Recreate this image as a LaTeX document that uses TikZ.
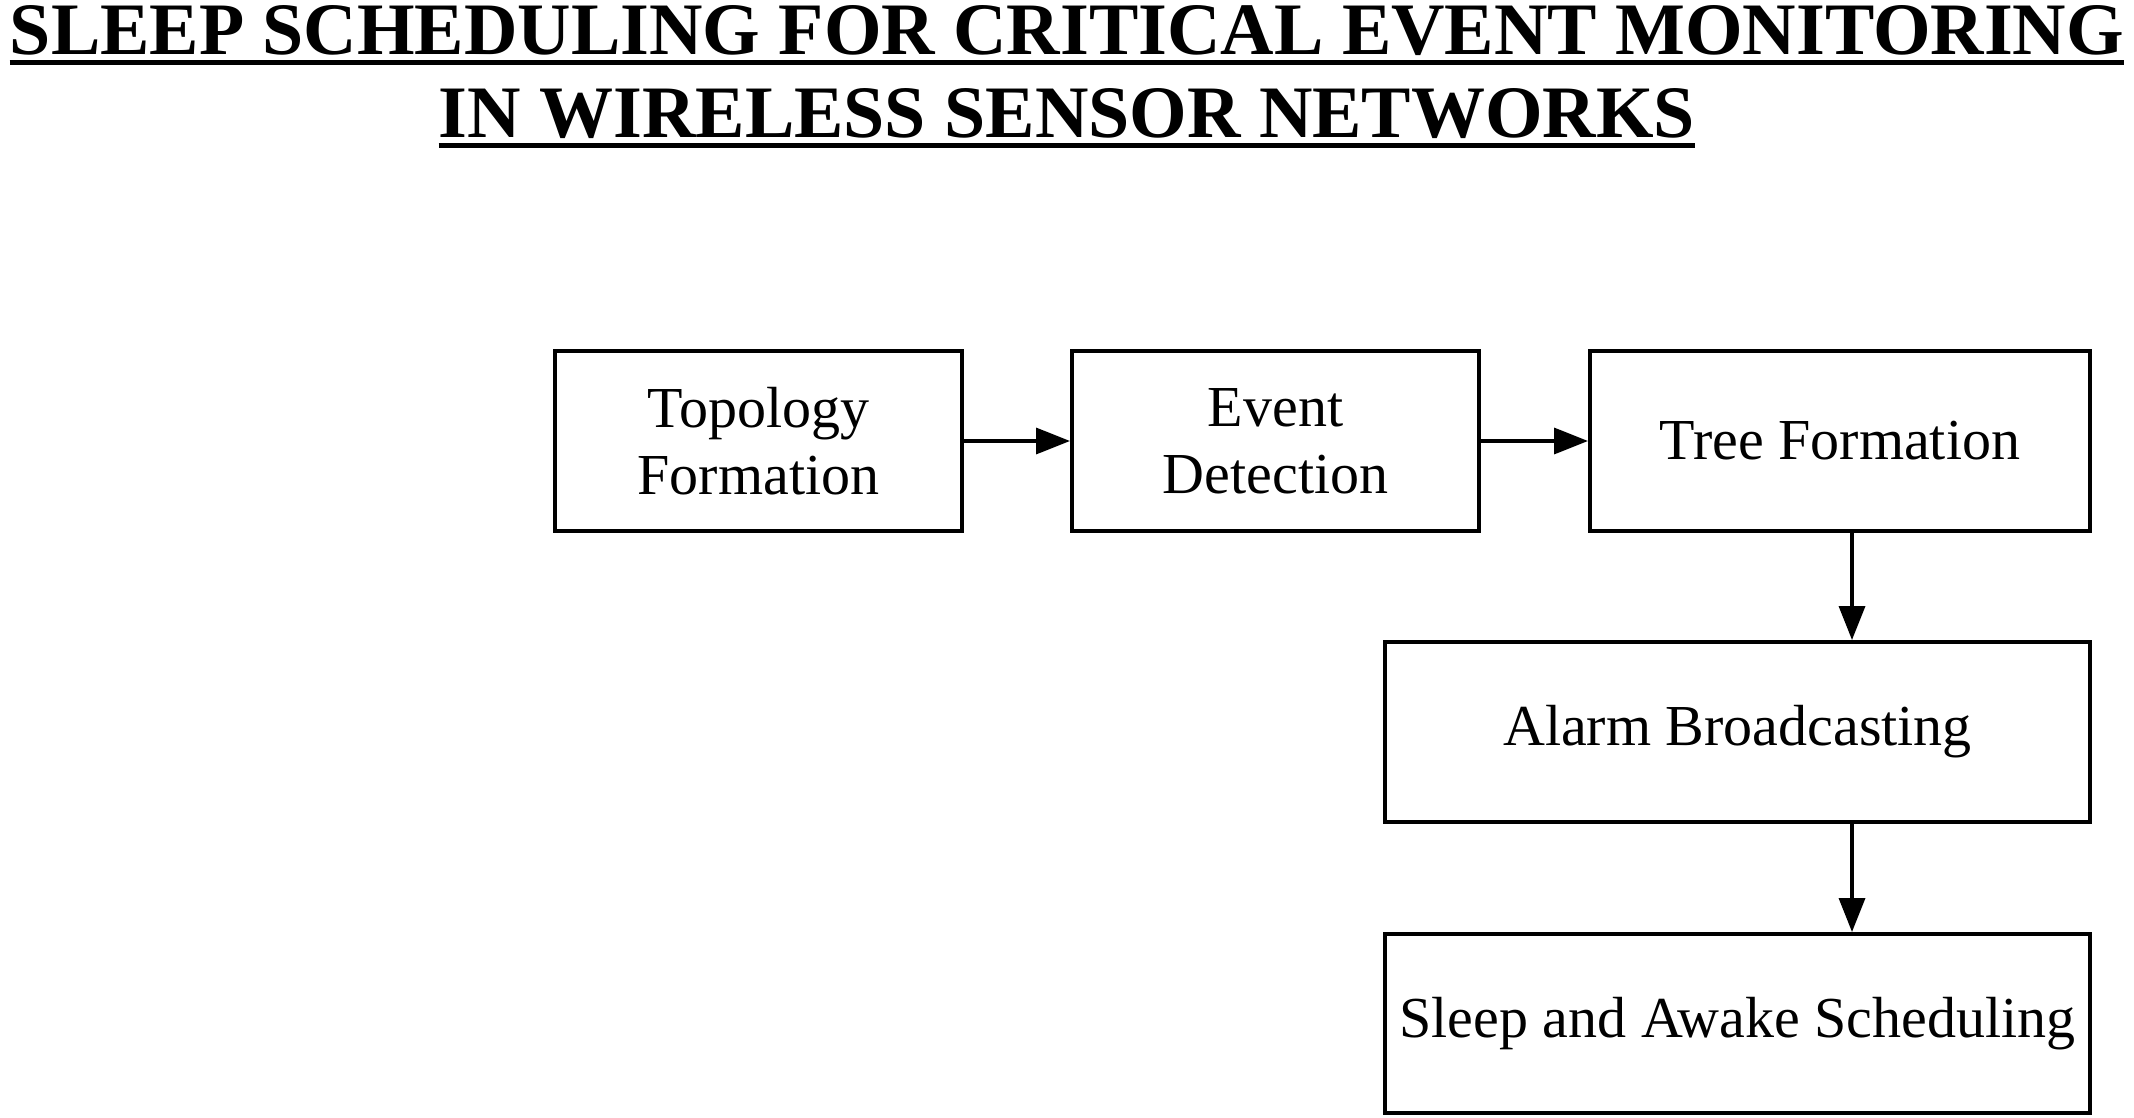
\documentclass[tikz,border=0pt]{standalone}
\usepackage{fontspec}
\setmainfont{Liberation Serif}
\usetikzlibrary{arrows.meta}
\begin{document}
\begin{tikzpicture}[x=1pt,y=-1pt,
  box/.style={draw=black,line width=4pt,rectangle,align=center,inner sep=0pt,
    font=\fontsize{58}{67}\selectfont},
  arr/.style={line width=3.5pt,-{Triangle[length=34pt,width=26pt]}},
  ttl/.style={font=\fontsize{74}{84}\bfseries\selectfont,inner sep=0pt,anchor=base,
    text height=50pt,text depth=0pt}]
\useasboundingbox[fill=white] (0,0) rectangle (2134,1118);
\node[ttl] (t1) at (1067,55) {SLEEP SCHEDULING FOR CRITICAL EVENT MONITORING};
\node[ttl] (t2) at (1067,138) {IN WIRELESS SENSOR NETWORKS};
\draw[line width=5pt] (t1.base west |- 0,63) coordinate (u1a) -- (t1.base east |- 0,63) coordinate (u1b);
\draw[line width=5pt] (t2.base west |- 0,146) coordinate (u2a) -- (t2.base east |- 0,146) coordinate (u2b);
\node[box,minimum width=407pt,minimum height=180pt] (topo) at (758.5,441) {Topology\\Formation};
\node[box,minimum width=407pt,minimum height=180pt] (event) at (1275.5,441) {Event\\Detection};
\node[box,minimum width=500pt,minimum height=180pt] (tree) at (1840,441) {Tree Formation};
\node[box,minimum width=705pt,minimum height=180pt] (alarm) at (1737.5,732) {Alarm Broadcasting};
\node[box,minimum width=705pt,minimum height=179pt] (sleep) at (1737.5,1023.5) {Sleep and Awake Scheduling};
\draw[arr] (topo.east) -- (event.west);
\draw[arr] (event.east) -- (tree.west);
\draw[arr] ([xshift=12pt]tree.south) -- ([xshift=12pt]tree.south |- alarm.north);
\draw[arr] ([xshift=12pt]tree.south |- alarm.south) -- ([xshift=12pt]tree.south |- sleep.north);
\end{tikzpicture}
\end{document}
